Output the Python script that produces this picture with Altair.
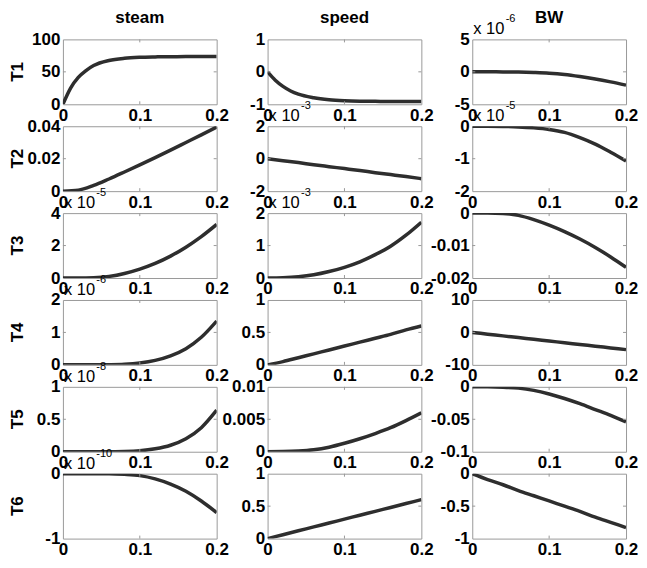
import altair as alt
import pandas as pd

# ---------------- data ----------------
X_GRID = [0, 0.02, 0.04, 0.06, 0.08, 0.1, 0.12, 0.14, 0.16, 0.18, 0.2]
X_FAST = [0, 0.01, 0.02, 0.03, 0.04, 0.06, 0.08, 0.1, 0.12, 0.14, 0.16, 0.18, 0.2]

ROW_NAMES = ["T1", "T2", "T3", "T4", "T5", "T6"]
COL_NAMES = ["steam", "speed", "BW"]
X_TICKS = [0, 0.1, 0.2]

# T1
T1_STEAM = [0, 25, 41.5, 52, 59.7, 67.5, 70.9, 72.4, 73.0, 73.3, 73.5, 73.5, 73.5]  # on X_FAST
T1_SPEED = [0, -0.26, -0.45, -0.59, -0.69, -0.80, -0.86, -0.89, -0.905, -0.91, -0.915, -0.915, -0.915]  # on X_FAST
T1_BW = [0, 0, -0.01, -0.04, -0.1, -0.2, -0.4, -0.72, -1.1, -1.55, -2.05]  # x1e-6
# T2
T2_STEAM = [0, 0.0006, 0.0035, 0.0075, 0.0118, 0.0162, 0.0207, 0.0253, 0.0300, 0.0347, 0.0395]
T2_SPEED = [0, -0.12, -0.24, -0.37, -0.49, -0.61, -0.73, -0.86, -0.98, -1.1, -1.23]  # x1e-3
T2_BW = [0, 0, -0.005, -0.02, -0.05, -0.1, -0.19, -0.35, -0.55, -0.8, -1.07]  # x1e-5
# T3
T3_STEAM = [0, 0, 0.02, 0.1, 0.28, 0.55, 0.9, 1.35, 1.9, 2.55, 3.3]  # x1e-5
T3_SPEED = [0, 0.01, 0.04, 0.1, 0.2, 0.33, 0.5, 0.72, 0.98, 1.32, 1.72]  # x1e-3
T3_BW = [0, 0, -0.0001, -0.0007, -0.002, -0.0037, -0.0057, -0.008, -0.0106, -0.0135, -0.0167]
# T4
T4_STEAM = [0, 0, 0, 0.005, 0.02, 0.06, 0.14, 0.28, 0.5, 0.85, 1.35]  # x1e-6
T4_SPEED = [0, 0.05, 0.11, 0.17, 0.23, 0.29, 0.35, 0.41, 0.47, 0.54, 0.6]
T4_BW = [0, -0.53, -1.06, -1.59, -2.12, -2.65, -3.18, -3.71, -4.24, -4.77, -5.3]
# T5
T5_STEAM = [0, 0, 0, 0.001, 0.004, 0.015, 0.045, 0.1, 0.2, 0.37, 0.64]  # x1e-8
T5_SPEED = [0, 0.00002, 0.0001, 0.0003, 0.0007, 0.0013, 0.002, 0.0028, 0.0037, 0.0048, 0.006]
T5_BW = [0, 0, -0.0005, -0.002, -0.0055, -0.011, -0.018, -0.026, -0.035, -0.044, -0.054]
# T6
T6_STEAM = [0, 0, 0, 0, -0.01, -0.03, -0.08, -0.16, -0.27, -0.42, -0.6]  # x1e-10
T6_SPEED = [0, 0.06, 0.12, 0.18, 0.24, 0.3, 0.36, 0.42, 0.48, 0.54, 0.6]
T6_BW = [0, -0.09, -0.17, -0.26, -0.34, -0.42, -0.5, -0.58, -0.67, -0.75, -0.83]

# y-axis domains / ticks per panel, plus the axis multiplier exponent
PANELS = [
    [(X_FAST, T1_STEAM, [0, 100], [0, 50, 100], None),
     (X_FAST, T1_SPEED, [-1, 1], [-1, 0, 1], None),
     (X_GRID, T1_BW, [-5, 5], [-5, 0, 5], "-6")],
    [(X_GRID, T2_STEAM, [0, 0.04], [0, 0.02, 0.04], None),
     (X_GRID, T2_SPEED, [-2, 2], [-2, 0, 2], "-3"),
     (X_GRID, T2_BW, [-2, 0], [-2, -1, 0], "-5")],
    [(X_GRID, T3_STEAM, [0, 4], [0, 2, 4], "-5"),
     (X_GRID, T3_SPEED, [0, 2], [0, 1, 2], "-3"),
     (X_GRID, T3_BW, [-0.02, 0], [-0.02, -0.01, 0], None)],
    [(X_GRID, T4_STEAM, [0, 2], [0, 1, 2], "-6"),
     (X_GRID, T4_SPEED, [0, 1], [0, 0.5, 1], None),
     (X_GRID, T4_BW, [-10, 10], [-10, 0, 10], None)],
    [(X_GRID, T5_STEAM, [0, 1], [0, 0.5, 1], "-8"),
     (X_GRID, T5_SPEED, [0, 0.01], [0, 0.005, 0.01], None),
     (X_GRID, T5_BW, [-0.1, 0], [-0.1, -0.05, 0], None)],
    [(X_GRID, T6_STEAM, [-1, 0], [-1, 0], "-10"),
     (X_GRID, T6_SPEED, [0, 1], [0, 0.5, 1], None),
     (X_GRID, T6_BW, [-1, 0], [-1, -0.5, 0], None)],
]

FONT = "Liberation Sans"
FRAME = "#9a9a9a"
W, H = 154, 65
TICK_LEN = 3
ONE = alt.Data(values=[{"k": 0}])


def panel(xs, ys, dom, ticks, exp, col_title, row_label):
    xscale = alt.Scale(domain=[0, 0.2], nice=False, zero=False)
    yscale = alt.Scale(domain=dom, nice=False, zero=False)
    xaxis = alt.Axis(values=X_TICKS, title=None, labelExpr="toString(datum.value)")
    yaxis = alt.Axis(values=ticks, title=None, labelExpr="toString(datum.value)")
    df = pd.DataFrame({"x": xs, "y": ys})
    line = alt.Chart(df).mark_line(
        color="#2e2e2e", strokeWidth=3.5, interpolate="monotone", clip=True
    ).encode(
        x=alt.X("x:Q", scale=xscale, axis=xaxis),
        y=alt.Y("y:Q", scale=yscale, axis=yaxis),
    )
    layers = [line]

    # inward tick marks (MATLAB style) at the interior tick values
    inner_x = pd.DataFrame({"x": X_TICKS[1:-1]})
    for y0, y1 in [(0, TICK_LEN), (H - TICK_LEN, H)]:
        layers.append(alt.Chart(inner_x).mark_rule(color=FRAME, strokeWidth=1).encode(
            x=alt.X("x:Q", scale=xscale, axis=xaxis),
            y=alt.value(y0), y2=alt.value(y1)))
    if len(ticks) > 2:
        inner_y = pd.DataFrame({"y": ticks[1:-1]})
        for x0, x1 in [(0, TICK_LEN), (W - TICK_LEN, W)]:
            layers.append(alt.Chart(inner_y).mark_rule(color=FRAME, strokeWidth=1).encode(
                y=alt.Y("y:Q", scale=yscale, axis=yaxis),
                x=alt.value(x0), x2=alt.value(x1)))

    if exp:
        layers.append(alt.Chart(ONE).mark_text(
            text="x 10", font=FONT, fontSize=16.5, align="left",
            baseline="alphabetic", color="black"
        ).encode(x=alt.value(1), y=alt.value(-5)))
        layers.append(alt.Chart(ONE).mark_text(
            text=exp, font=FONT, fontSize=11, align="left",
            baseline="alphabetic", color="black"
        ).encode(x=alt.value(33.5), y=alt.value(-17)))
    if col_title:
        layers.append(alt.Chart(ONE).mark_text(
            text=col_title, font=FONT, fontSize=17, fontWeight="bold",
            align="center", baseline="alphabetic", color="black"
        ).encode(x=alt.value(W / 2), y=alt.value(-16)))
    if row_label:
        layers.append(alt.Chart(ONE).mark_text(
            text=row_label, font=FONT, fontSize=17, fontWeight="bold",
            align="center", baseline="middle", angle=270, color="black"
        ).encode(x=alt.value(-45), y=alt.value(H / 2)))
    return alt.layer(*layers).properties(width=W, height=H)


charts = []
for r, row in enumerate(PANELS):
    for c, (xs, ys, dom, ticks, exp) in enumerate(row):
        charts.append(panel(xs, ys, dom, ticks, exp,
                            COL_NAMES[c] if r == 0 else None,
                            ROW_NAMES[r] if c == 0 else None))

chart = alt.concat(
    *charts, columns=3, spacing={"row": 22, "column": 51}, bounds="flush"
).properties(
    padding={"left": 0, "top": 0, "right": 0, "bottom": 0}
).configure_view(
    stroke=FRAME, strokeWidth=1
).configure_axis(
    labelFont=FONT, labelFontSize=17, labelFontWeight="bold", labelColor="black",
    domain=False, ticks=False, grid=False, labelFlush=False, labelOverlap=False,
    labelBound=False, labelPadding=3
)

chart.save("out.html", embed_options={"renderer": "svg", "actions": False})
